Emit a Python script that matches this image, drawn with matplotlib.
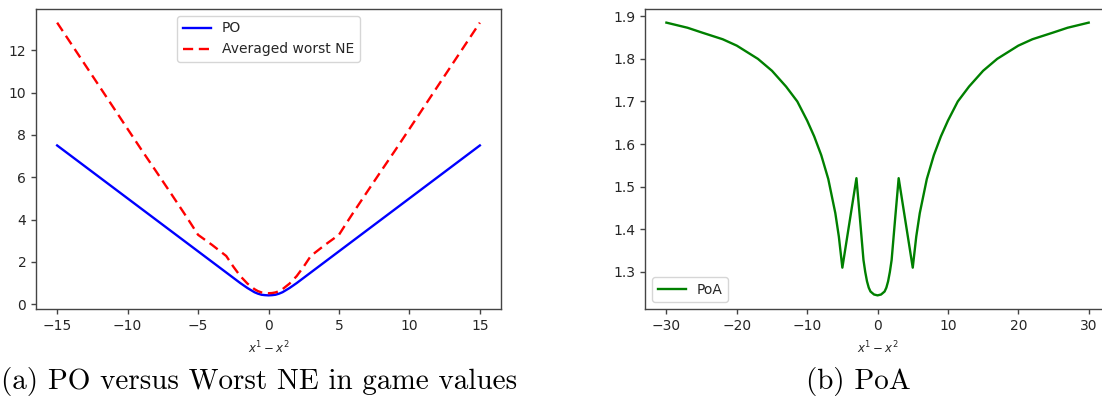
import matplotlib
matplotlib.use("Agg")
import matplotlib.pyplot as plt

# ---- data ----
x_left = [-15, -12, -10, -9, -8, -7, -6, -5.5, -5, -4, -3, -2.5, -2, -1.5, -1, -0.75, -0.5, -0.25, 0,
          0.25, 0.5, 0.75, 1, 1.5, 2, 2.5, 3, 4, 5, 5.5, 6, 7, 8, 9, 10, 12, 15]
po_vals = [7.5, 6.0, 5.0, 4.5, 4.0, 3.5, 3.0, 2.75, 2.5, 2.0, 1.5, 1.25, 1.0, 0.77, 0.57, 0.5, 0.45, 0.43, 0.42,
           0.43, 0.45, 0.5, 0.57, 0.77, 1.0, 1.25, 1.5, 2.0, 2.5, 2.75, 3.0, 3.5, 4.0, 4.5, 5.0, 6.0, 7.5]
ne_vals = [13.3, 10.29, 8.28, 7.28, 6.3, 5.31, 4.31, 3.8, 3.28, 2.8, 2.28, 1.78, 1.33, 0.98, 0.715, 0.62, 0.56, 0.53, 0.52,
           0.53, 0.56, 0.62, 0.715, 0.98, 1.33, 1.78, 2.28, 2.8, 3.28, 3.8, 4.31, 5.31, 6.3, 7.28, 8.28, 10.29, 13.3]

x_right = [-30, -27, -25, -22, -20, -17, -15, -13, -11.4, -10, -9, -8, -7, -6, -5.5, -5,
           -4, -3, -2.5, -2, -1.75, -1.5, -1.25, -1, -0.5, 0,
           0.5, 1, 1.25, 1.5, 1.75, 2, 2.5, 3, 4,
           5, 5.5, 6, 7, 8, 9, 10, 11.4, 13, 15, 17, 20, 22, 25, 27, 30]
poa_vals = [1.885, 1.873, 1.862, 1.846, 1.831, 1.800, 1.772, 1.735, 1.700, 1.655, 1.618, 1.574, 1.518, 1.438, 1.383, 1.31,
            1.415, 1.52, 1.425, 1.328, 1.300, 1.278, 1.263, 1.254, 1.247, 1.245,
            1.247, 1.254, 1.263, 1.278, 1.300, 1.328, 1.425, 1.52, 1.415,
            1.31, 1.383, 1.438, 1.518, 1.574, 1.618, 1.655, 1.700, 1.735, 1.772, 1.800, 1.831, 1.846, 1.862, 1.873, 1.885]

W, H = 1102, 409
fig = plt.figure(figsize=(W / 100, H / 100), dpi=100)

text_color = "#262626"
spine_color = "#444444"


def style(ax):
    for s in ax.spines.values():
        s.set_color(spine_color)
        s.set_linewidth(1.0)
    ax.tick_params(colors=spine_color, labelcolor=text_color, labelsize=10, length=3.5, width=1.0)


ax1 = fig.add_axes([36 / W, 1 - 309 / H, 465 / W, 300 / H])
ax1.plot(x_left, po_vals, color="blue", lw=1.7, label="PO")
ax1.plot(x_left, ne_vals, color="red", lw=1.7, ls=(0, (4.3, 2.4)), label="Averaged worst NE")
ax1.set_xticks([-15, -10, -5, 0, 5, 10, 15])
ax1.set_yticks([0, 2, 4, 6, 8, 10, 12])
ax1.set_xlabel(r"$x^1 - x^2$", fontsize=8.5, color=text_color, labelpad=5)
leg1 = ax1.legend(loc="upper center", fontsize=10)
for t in leg1.get_texts():
    t.set_color(text_color)
style(ax1)

ax2 = fig.add_axes([645.3 / W, 1 - 309 / H, 464.5 / W, 300 / H])
ax2.plot(x_right, poa_vals, color="green", lw=1.7, label="PoA")
ax2.set_xticks([-30, -20, -10, 0, 10, 20, 30])
ax2.set_yticks([1.3, 1.4, 1.5, 1.6, 1.7, 1.8, 1.9])
ax2.set_xlabel(r"$x^1 - x^2$", fontsize=8.5, color=text_color, labelpad=5)
leg2 = ax2.legend(loc="lower left", fontsize=10)
for t in leg2.get_texts():
    t.set_color(text_color)
style(ax2)

fig.text(1 / W, 1 - 382 / H, "(a) PO versus Worst NE in game values", family="cmr10",
         fontsize=21, ha="left", va="center", color="black")
fig.text(858 / W, 1 - 382 / H, "(b) PoA", family="cmr10",
         fontsize=21, ha="center", va="center", color="black")

fig.savefig("out.png", dpi=100)
